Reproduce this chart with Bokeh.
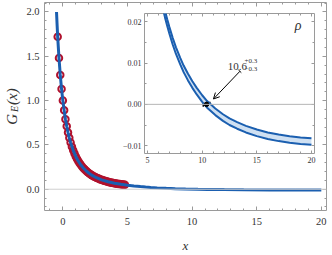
from bokeh.plotting import figure
from bokeh.models import (FixedTicker, Label, Arrow, OpenHead, TeeHead, Whisker, NumeralTickFormatter,
                          ColumnDataSource, LinearAxis, CustomJSTickFormatter, Span, Range1d)
from bokeh.layouts import column
from bokeh.embed import file_html
from bokeh.resources import INLINE

# ---------------- data ----------------
circ_x = [-0.4, -0.3, -0.2, -0.1, 0.0, 0.1, 0.2, 0.3, 0.4, 0.5, 0.6, 0.7, 0.8, 0.9,
          1.0, 1.1, 1.2, 1.3, 1.4, 1.5, 1.6, 1.7, 1.8, 1.9, 2.0, 2.1, 2.2, 2.3, 2.4,
          2.5, 2.6, 2.7, 2.8, 2.9, 3.0, 3.1, 3.2, 3.3, 3.4, 3.5, 3.6, 3.7, 3.8, 3.9,
          4.0, 4.1, 4.2, 4.3, 4.4, 4.5, 4.6, 4.7, 4.8]
circ_y = [1.72, 1.48, 1.29, 1.13, 1.00, 0.89, 0.79, 0.71, 0.64, 0.58, 0.526, 0.479,
          0.439, 0.402, 0.370, 0.342, 0.316, 0.293, 0.273, 0.254, 0.237, 0.222, 0.208,
          0.195, 0.183, 0.172, 0.162, 0.153, 0.145, 0.137, 0.130, 0.123, 0.117, 0.111,
          0.106, 0.101, 0.096, 0.092, 0.088, 0.084, 0.080, 0.077, 0.074, 0.071, 0.068,
          0.065, 0.063, 0.060, 0.058, 0.056, 0.054, 0.052, 0.050]

curve_x = [-0.49, -0.45, -0.4, -0.35, -0.3, -0.25, -0.2, -0.1, 0.0, 0.1, 0.2, 0.3, 0.4,
           0.5, 0.6, 0.8, 1.0, 1.2, 1.4, 1.6, 1.8, 2.0, 2.3, 2.6, 3.0, 3.5, 4.0, 4.5,
           5.0, 5.5, 6.0, 6.4, 6.8, 7.3, 8.0, 8.7, 9.5, 10.45, 11.2, 12.5, 14.0, 16.0,
           18.0, 20.0]
curve_y = [2.00, 1.87, 1.72, 1.60, 1.48, 1.387, 1.29, 1.13, 1.00, 0.89, 0.79, 0.71, 0.64,
           0.58, 0.526, 0.439, 0.370, 0.316, 0.273, 0.237, 0.208, 0.183, 0.153, 0.130,
           0.106, 0.084, 0.068, 0.056, 0.046, 0.037, 0.0295, 0.0240, 0.0198, 0.0153,
           0.0104, 0.0066, 0.0032, 0.0, -0.0018, -0.0042, -0.0060, -0.0076, -0.0085,
           -0.0090]

inset_x = [6.2, 6.4, 6.6, 6.8, 7.0, 7.3, 7.6, 8.0, 8.3, 8.7, 9.1, 9.5, 10.0, 10.45,
           11.2, 11.9, 12.5, 13.2, 14.0, 15.0, 16.0, 17.0, 18.0, 19.0, 20.0]
inset_hi = [0.0273, 0.0248, 0.0226, 0.0206, 0.0187, 0.0161, 0.0138, 0.0112, 0.0094,
            0.0074, 0.0056, 0.0040, 0.0022, 0.0008, -0.0010, -0.0024, -0.0034, -0.0043,
            -0.0052, -0.0061, -0.0068, -0.0073, -0.0077, -0.0080, -0.0082]
inset_lo = [0.0257, 0.0232, 0.0210, 0.0190, 0.0171, 0.0145, 0.0122, 0.0096, 0.0078,
            0.0058, 0.0040, 0.0024, 0.0006, -0.0008, -0.0026, -0.0040, -0.0050, -0.0059,
            -0.0068, -0.0077, -0.0084, -0.0089, -0.0093, -0.0096, -0.0098]

root_x = [10.4]
root_y = [0.0]
root_lo = [10.1]
root_hi = [10.7]
root_text = "10.6"
root_plus = "+0.3"
root_minus = "\u22120.3"

main_xticks = [0, 5, 10, 15, 20]
main_xminor = [-1, 1, 2, 3, 4, 6, 7, 8, 9, 11, 12, 13, 14, 16, 17, 18, 19]
main_yticks = [0.0, 0.5, 1.0, 1.5, 2.0]
main_yminor = [-0.2, -0.1, 0.1, 0.2, 0.3, 0.4, 0.6, 0.7, 0.8, 0.9, 1.1, 1.2, 1.3, 1.4,
               1.6, 1.7, 1.8, 1.9, 2.1]
inset_xticks = [5, 10, 15, 20]
inset_xminor = [6, 7, 8, 9, 11, 12, 13, 14, 16, 17, 18, 19]
inset_yticks = [-0.01, 0.0, 0.01, 0.02]
inset_yminor = [-0.005, 0.005, 0.015]

ylabel_main = "G\u2009\u2009\u2009(x)"   # G ... (x), subscript E sits in the gap
ylabel_sub = "E\u2002"

BLUE = "#1b5fb0"
RED = "#b0112d"
BAND = "#cfe0f2"
FRAME = "#9a9a9a"
TXT = "#333333"
SERIF = "Liberation Serif"

BLANK = CustomJSTickFormatter(code='return "";')


def style_axis(ax, tick_in, minor_in, fs):
    ax.axis_line_color = None
    ax.major_tick_line_color = FRAME
    ax.minor_tick_line_color = FRAME
    ax.major_tick_in = tick_in
    ax.major_tick_out = 0
    ax.minor_tick_in = minor_in
    ax.minor_tick_out = 0
    ax.major_label_text_font = SERIF
    ax.major_label_text_font_size = fs
    ax.major_label_text_color = TXT


# ---------------- main figure ----------------
p = figure(width=332, height=255, x_range=Range1d(-1.42, 20.4), y_range=Range1d(-0.24, 2.107),
           output_backend="svg", toolbar_location=None,
           min_border_left=43, min_border_right=6, min_border_top=2, min_border_bottom=41)
p.background_fill_color = "white"
p.border_fill_color = "white"
p.outline_line_color = FRAME
p.grid.visible = False

bottom_ax = p.below[0]
left_ax = p.left[0]
bottom_ax.ticker = FixedTicker(ticks=main_xticks, minor_ticks=main_xminor)
left_ax.ticker = FixedTicker(ticks=main_yticks, minor_ticks=main_yminor)
left_ax.formatter = NumeralTickFormatter(format="0.0")

top_ax = LinearAxis(ticker=FixedTicker(ticks=main_xticks, minor_ticks=main_xminor), formatter=BLANK)
right_ax = LinearAxis(ticker=FixedTicker(ticks=main_yticks, minor_ticks=main_yminor), formatter=BLANK)
p.add_layout(top_ax, "above")
p.add_layout(right_ax, "right")

for ax in [bottom_ax, left_ax, top_ax, right_ax]:
    style_axis(ax, 4, 2, "10.5px")
for ax in [top_ax, right_ax]:
    ax.major_label_standoff = 0
bottom_ax.major_label_standoff = 7
left_ax.major_label_standoff = 5
bottom_ax.axis_label = "x"
bottom_ax.axis_label_text_font = SERIF
bottom_ax.axis_label_text_font_style = "italic"
bottom_ax.axis_label_text_font_size = "13px"
bottom_ax.axis_label_text_color = TXT
bottom_ax.axis_label_standoff = 10

# subscript E: label of the inner (ticked) left axis
left_ax.axis_label = ylabel_sub
left_ax.axis_label_text_font = SERIF
left_ax.axis_label_text_font_style = "italic"
left_ax.axis_label_text_font_size = "10px"
left_ax.axis_label_text_color = TXT
left_ax.axis_label_standoff = 3

# G (x): label of an outer, tick-less left axis overlapping slightly
outer_ax = LinearAxis(ticker=FixedTicker(ticks=[]), formatter=BLANK)
outer_ax.axis_line_color = None
outer_ax.major_tick_line_color = None
outer_ax.minor_tick_line_color = None
outer_ax.major_tick_in = 0
outer_ax.major_tick_out = 0
outer_ax.minor_tick_in = 0
outer_ax.minor_tick_out = 0
outer_ax.major_label_standoff = 0
outer_ax.axis_label = ylabel_main
outer_ax.axis_label_text_font = SERIF
outer_ax.axis_label_text_font_style = "italic"
outer_ax.axis_label_text_font_size = "15px"
outer_ax.axis_label_text_color = TXT
outer_ax.axis_label_standoff = -13
p.add_layout(outer_ax, "left")

p.add_layout(Span(location=0, dimension="width", line_color="#cfcfcf", line_width=1))

p.scatter(circ_x, circ_y, marker="circle", size=6.5, fill_color=None, line_color=RED, line_width=2)
p.line(curve_x, curve_y, line_color=BLUE, line_width=3)

# ---------------- inset ----------------
inset = figure(width=220, height=157, x_range=Range1d(4.72, 20.28), y_range=Range1d(-0.0119, 0.022),
               output_backend="svg", toolbar_location=None,
               min_border_left=32, min_border_right=3, min_border_top=2, min_border_bottom=15)
inset.background_fill_color = "white"
inset.border_fill_alpha = 0
inset.outline_line_color = FRAME
inset.grid.visible = False
ibottom = inset.below[0]
ileft = inset.left[0]
ibottom.ticker = FixedTicker(ticks=inset_xticks, minor_ticks=inset_xminor)
ileft.ticker = FixedTicker(ticks=inset_yticks, minor_ticks=inset_yminor)
ileft.formatter = CustomJSTickFormatter(code="""
if (Math.abs(tick) < 1e-9) { return "0.00"; }
return tick.toFixed(2).replace("-", "\u2212");
""")
itop = LinearAxis(ticker=FixedTicker(ticks=inset_xticks, minor_ticks=inset_xminor), formatter=BLANK)
iright = LinearAxis(ticker=FixedTicker(ticks=inset_yticks, minor_ticks=inset_yminor), formatter=BLANK)
inset.add_layout(itop, "above")
inset.add_layout(iright, "right")
for ax in [ibottom, ileft, itop, iright]:
    style_axis(ax, 3, 2, "8px")
    ax.major_label_standoff = 3
for ax in [itop, iright]:
    ax.major_label_standoff = 0

inset.add_layout(Span(location=0, dimension="width", line_color="#b5b5b5", line_width=1))
inset.varea(x=inset_x, y1=inset_lo, y2=inset_hi, fill_color=BAND)
inset.line(inset_x, inset_hi, line_color=BLUE, line_width=2)
inset.line(inset_x, inset_lo, line_color=BLUE, line_width=2)

rsrc = ColumnDataSource(dict(x=root_x, y=root_y, lo=root_lo, hi=root_hi))
inset.add_layout(Whisker(base="y", lower="lo", upper="hi", dimension="width", source=rsrc,
                         line_color="black", line_width=1.5,
                         lower_head=TeeHead(size=5, line_color="black", line_width=1.5),
                         upper_head=TeeHead(size=5, line_color="black", line_width=1.5)))
inset.scatter("x", "y", source=rsrc, marker="circle", size=4.5, color="black")

inset.add_layout(Arrow(x_start=13.45, y_start=0.0080, x_end=11.03, y_end=0.0013,
                       line_color="black", line_width=1,
                       start=TeeHead(size=4, line_color="black", line_width=1),
                       end=OpenHead(size=6, line_color="black", line_width=1)))
inset.add_layout(Label(x=12.33, y=0.00925, text=root_text, text_font=SERIF,
                       text_font_size="11px", text_color=TXT, text_baseline="alphabetic"))
inset.add_layout(Label(x=13.87, y=0.0106, text=root_plus, text_font=SERIF,
                       text_font_size="7px", text_color=TXT, text_baseline="alphabetic"))
inset.add_layout(Label(x=13.87, y=0.0085, text=root_minus, text_font=SERIF,
                       text_font_size="7px", text_color=TXT, text_baseline="alphabetic"))
inset.add_layout(Label(x=18.78, y=0.019, text="\u03c1", text_font=SERIF, text_font_style="italic",
                       text_font_size="14px", text_color=TXT, text_align="center",
                       text_baseline="middle"))

inset.styles = {"position": "absolute", "left": "100px", "top": "11px", "z-index": "5"}
root = column(p, inset, width=332, height=255,
              styles={"position": "absolute", "left": "0px", "top": "0px"})

open("out.html", "w").write(file_html(root, INLINE))
